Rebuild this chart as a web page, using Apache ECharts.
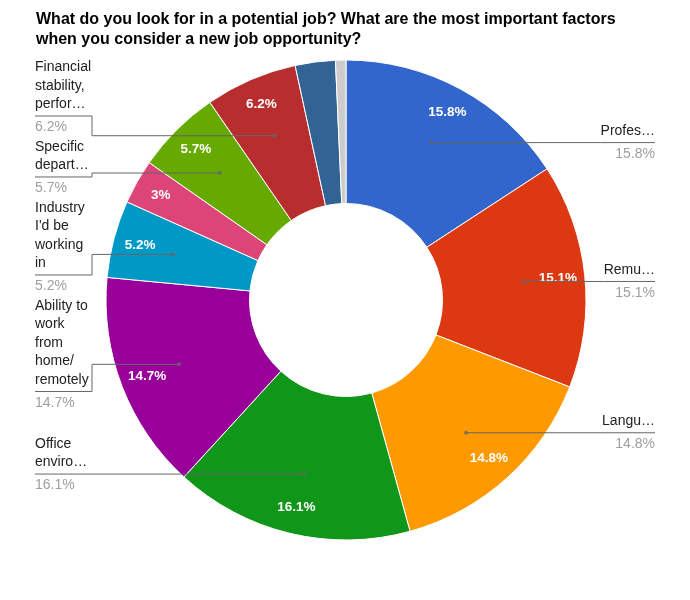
<!DOCTYPE html>
<html><head><meta charset="utf-8">
<script src="https://cdn.jsdelivr.net/npm/echarts@6/dist/echarts.min.js"></script>
<style>html,body{margin:0;padding:0;background:#fff}#c{width:690px;height:600px}</style>
</head><body><div id="c"></div>
<script>
const titleText = "What do you look for in a potential job? What are the most important factors\nwhen you consider a new job opportunity?";
const categories = [
  "Professional development", "Remuneration", "Language used at work", "Office environment",
  "Ability to work from home/ remotely", "Industry I'd be working in", "Company culture",
  "Specific department", "Financial stability, performance of the company", "Location", "Other"
];
const values = [15.8, 15.1, 14.8, 16.1, 14.7, 5.2, 3, 5.7, 6.2, 2.7, 0.7];
const labelTexts = [
  "Profes\u2026", "Remu\u2026", "Langu\u2026", "Office\nenviro\u2026",
  "Ability to\nwork\nfrom\nhome/\nremotely", "Industry\nI'd be\nworking\nin", "",
  "Specific\ndepart\u2026", "Financial\nstability,\nperfor\u2026", "", ""
];
const colors = ['#3366cc','#dc3912','#ff9900','#109618','#990099','#0099c6','#dd4477','#66aa00','#b82e2e','#316395','#cccccc'];

const CENTER = [346, 300];
const R_INNER = 96.5, R_OUTER = 240, R_DOT = 179;
const NAME_LH = 18.5, VALUE_LH = 27.5, UNDER_GAP = 11.5;
const FONT = 'Liberation Sans, Arial, sans-serif';

// ---- label placement (stack labels on each side without overlap) ----
const total = values.reduce((a, b) => a + b, 0);
const midPct = [];
{ let acc = 0; values.forEach(v => { midPct.push((acc + v / 2) / total * 100); acc += v; }); }
const labelU = {};
(function placeLabels() {
  const left = [], right = [];
  labelTexts.forEach((t, i) => {
    if (!t) return;
    const a = midPct[i] / 100 * Math.PI * 2;
    const n = t.split('\n').length;
    const it = {i, u: CENTER[1] - R_DOT * Math.cos(a), up: n * NAME_LH + 1, down: NAME_LH + 1};
    (Math.sin(a) < 0 ? left : right).push(it);
  });
  const TOP = 59.5, GAP = 3.5;
  [left, right].forEach(list => {
    list.sort((a, b) => a.u - b.u);
    for (let iter = 0; iter < 2000; iter++) {
      let moved = false;
      for (let k = 0; k < list.length - 1; k++) {
        const a = list[k], b = list[k + 1];
        const ov = (a.u + a.down + GAP) - (b.u - b.up);
        if (ov > 0.01) { a.u -= ov / 2; b.u += ov / 2; moved = true; }
      }
      if (list.length && list[0].u - list[0].up < TOP - 0.01) { list[0].u = TOP + list[0].up; moved = true; }
      if (!moved) break;
    }
    list.forEach(it => { labelU[it.i] = it.u; });
  });
})();

const chart = echarts.init(document.getElementById('c'), null, {renderer: 'canvas'});

const mainData = categories.map((c, i) => ({name: c, value: values[i], itemStyle: {color: colors[i]}}));
const pctData = categories.map((c, i) => ({name: c, value: values[i], label: {show: i < 9}}));
const outData = categories.map((c, i) => ({
  name: c, value: values[i],
  label: {show: labelTexts[i] !== ''},
  labelLine: {show: labelTexts[i] !== ''}
}));
const dotData = labelTexts.map((t, i) => t ? [R_DOT, midPct[i]] : null).filter(d => d);

chart.setOption({
  animation: false,
  backgroundColor: '#ffffff',
  title: {
    text: titleText, left: 36, top: 10, padding: 0,
    textStyle: {fontFamily: FONT, fontSize: 16, fontWeight: 'bold', color: '#000', lineHeight: 20}
  },
  polar: {center: CENTER, radius: R_OUTER},
  angleAxis: {type: 'value', min: 0, max: 100, startAngle: 90, clockwise: true, show: false},
  radiusAxis: {type: 'value', min: 0, max: R_OUTER, show: false},
  series: [
    {
      type: 'pie', center: CENTER, radius: [R_INNER, R_OUTER],
      data: mainData, silent: true,
      itemStyle: {borderColor: '#ffffff', borderWidth: 1},
      label: {show: false}, labelLine: {show: false},
      emphasis: {disabled: true}
    },
    {
      type: 'pie', center: CENTER, radius: [180, R_OUTER],
      data: pctData, silent: true, z: 3,
      itemStyle: {color: 'rgba(0,0,0,0)', borderWidth: 0},
      label: {
        show: true, position: 'inside',
        formatter: p => values[p.dataIndex] + '%',
        color: '#ffffff', fontFamily: FONT, fontSize: 13.5, fontWeight: 'bold'
      },
      labelLine: {show: false},
      emphasis: {disabled: true}
    },
    {
      type: 'pie', center: CENTER, radius: [R_INNER, R_DOT],
      data: outData, silent: true, z: 4,
      itemStyle: {color: 'rgba(0,0,0,0)', borderWidth: 0},
      avoidLabelOverlap: false,
      label: {
        show: true, position: 'outside', alignTo: 'edge', edgeDistance: 35,
        width: 57,
        formatter: p => '{n|' + labelTexts[p.dataIndex] + '}\n{v|' + values[p.dataIndex] + '%}',
        rich: {
          n: {fontFamily: FONT, fontSize: 14, lineHeight: NAME_LH, color: '#222222'},
          v: {fontFamily: FONT, fontSize: 14, lineHeight: VALUE_LH, color: '#9e9e9e'}
        }
      },
      labelLine: {show: true, length: 0, length2: 10, lineStyle: {color: '#666666', width: 1}},
      labelLayout: function (p) {
        const pts = p.labelLinePoints;
        const r = p.labelRect;
        if (!pts || !r || labelU[p.dataIndex] == null) return {};
        const n = labelTexts[p.dataIndex].split('\n').length;
        const off = (n - 1) * NAME_LH + NAME_LH / 2 + UNDER_GAP;
        const u = labelU[p.dataIndex];
        const isLeft = r.x + r.width / 2 < CENTER[0];
        const p0 = pts[0];
        const bendX = isLeft ? 92 : r.x;
        const endX = isLeft ? 35 : 690 - 35;
        return {
          y: u - off,
          verticalAlign: 'top',
          labelLinePoints: [p0, [bendX, p0[1]], [bendX, u], [endX, u]]
        };
      },
      emphasis: {disabled: true}
    },
    {
      type: 'scatter', coordinateSystem: 'polar', data: dotData,
      symbol: 'circle', symbolSize: 4, silent: true, z: 5,
      itemStyle: {color: '#666666'}
    }
  ]
});
</script>
</body></html>
